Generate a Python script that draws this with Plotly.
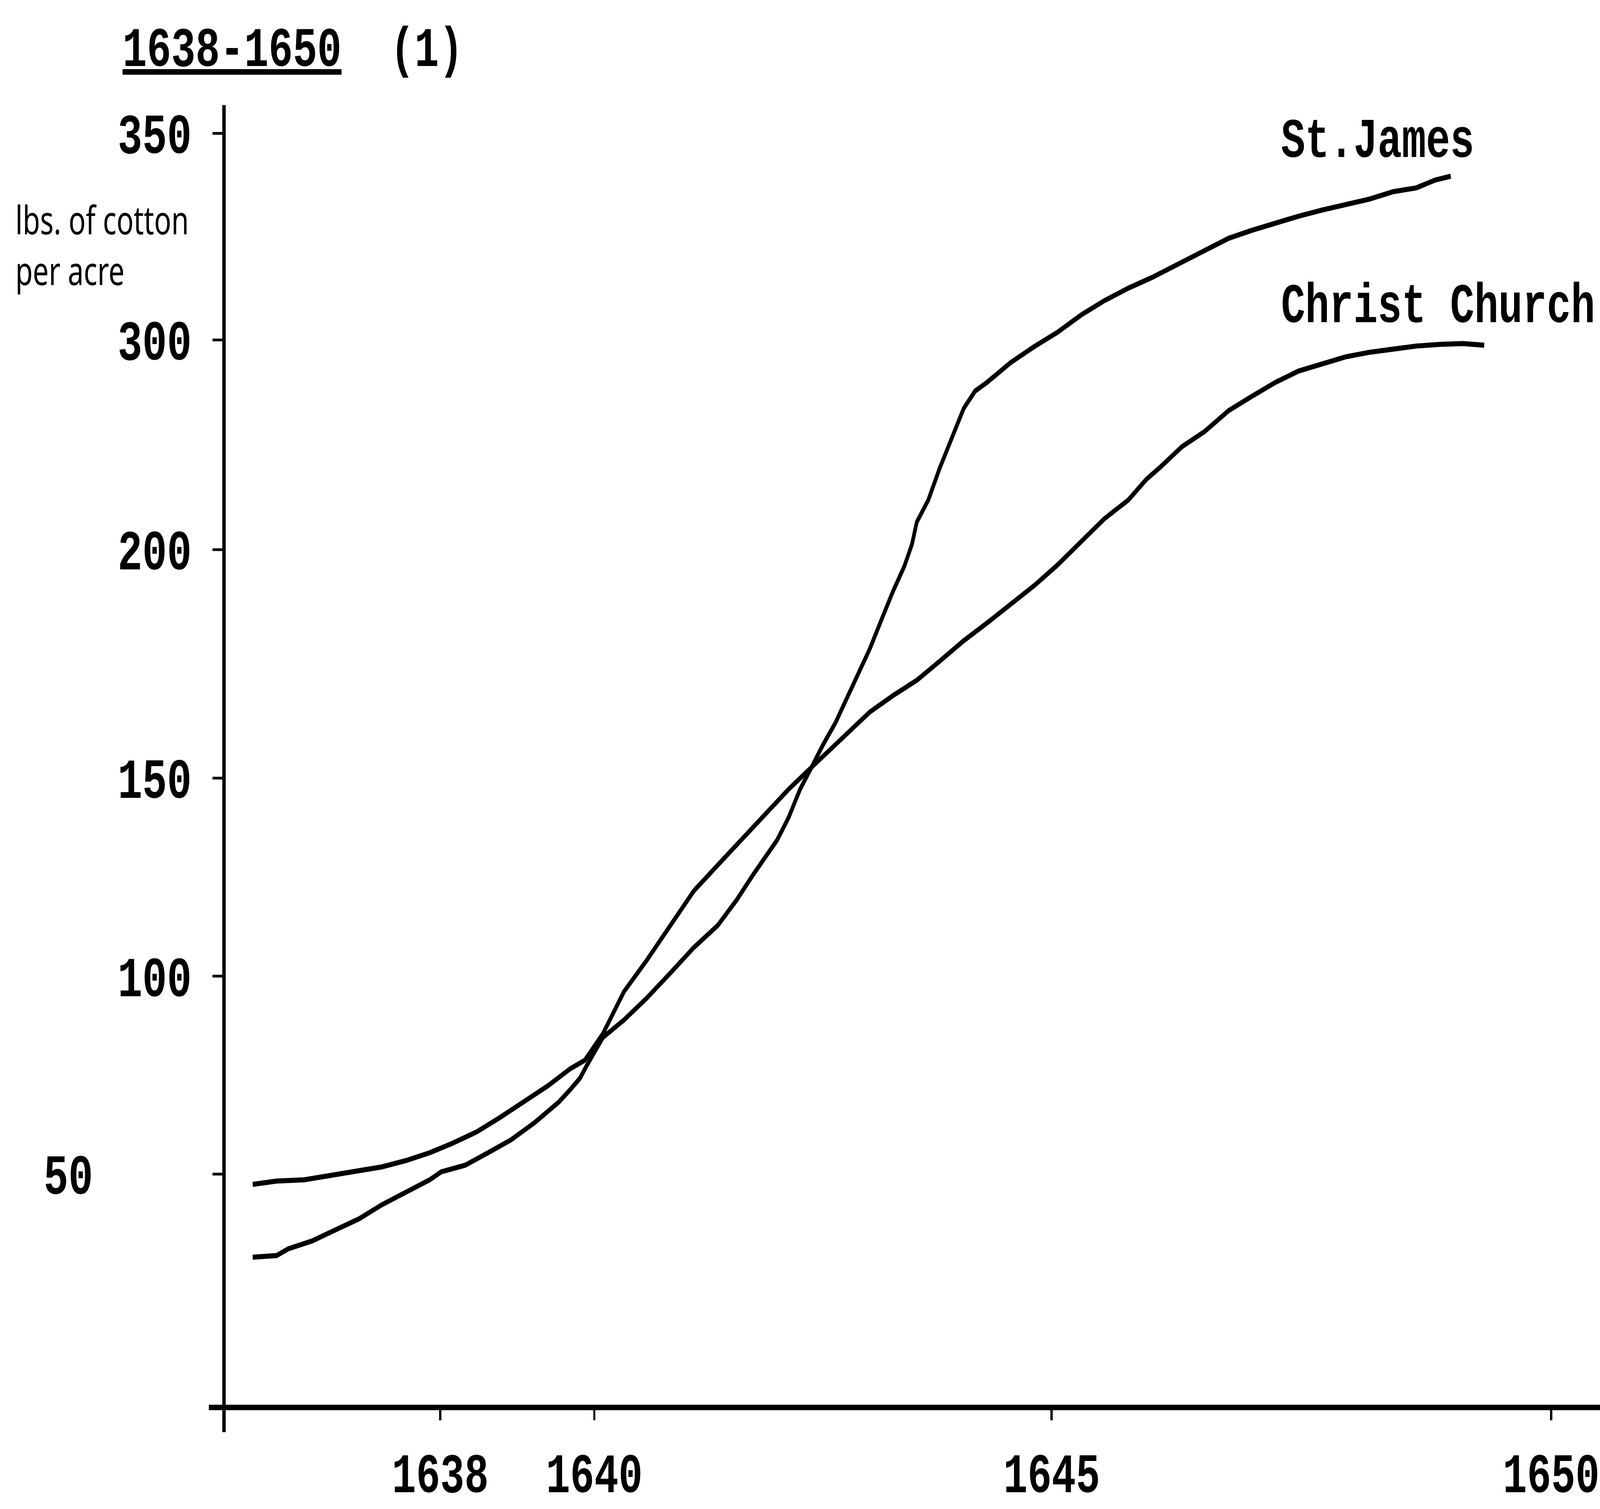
import plotly.graph_objects as go

# ---- data (x in drawn-year units, y in drawn-scale units) ----
st_james_x = [1636.43, 1636.68, 1636.80, 1637.05, 1637.29, 1637.54, 1637.78, 1638.03, 1638.28, 1638.40,
              1638.65, 1638.89, 1639.13, 1639.38, 1639.63, 1639.75, 1639.85, 1639.92, 1640.00, 1640.09,
              1640.31, 1640.55, 1640.80, 1641.04, 1641.29, 1641.49, 1641.66, 1641.91, 1642.03, 1642.15,
              1642.27, 1642.39, 1642.52, 1642.64, 1642.76, 1642.88, 1643.00, 1643.12, 1643.24, 1643.32,
              1643.37, 1643.49, 1643.61, 1643.74, 1643.86, 1643.98, 1644.10, 1644.35, 1644.60, 1644.84,
              1645.09, 1645.33, 1645.58, 1645.83, 1646.14, 1646.38, 1646.63, 1646.87, 1647.12, 1647.36,
              1647.61, 1647.85, 1648.10, 1648.35, 1648.59, 1648.79, 1648.95]
st_james_y = [30.0, 30.4, 32.0, 33.9, 36.5, 39.2, 42.6, 45.6, 48.6, 50.5,
              52.1, 55.1, 58.2, 62.4, 67.3, 70.3, 73.0, 76.0, 79.4, 82.8,
              87.0, 92.3, 98.4, 104.4, 109.7, 115.9, 121.9, 130.2, 135.6, 142.4,
              147.7, 153.1, 158.4, 164.4, 170.5, 176.2, 183.1, 189.9, 196.0, 201.3,
              206.6, 211.9, 219.6, 227.2, 233.9, 238.1, 240.1, 244.9, 248.8, 252.2,
              256.4, 259.8, 262.8, 265.4, 269.1, 272.1, 274.8, 276.7, 278.5, 280.1,
              281.6, 282.9, 284.2, 286.0, 286.9, 288.8, 289.7]

christ_church_x = [1636.43, 1636.68, 1636.97, 1637.29, 1637.54, 1637.78, 1638.03, 1638.28, 1638.52, 1638.77,
                   1639.01, 1639.26, 1639.51, 1639.75, 1639.90, 1640.09, 1640.31, 1640.55, 1640.80, 1641.04,
                   1641.29, 1641.53, 1641.78, 1642.03, 1642.27, 1642.63, 1642.88, 1643.12, 1643.37, 1643.61,
                   1643.86, 1644.10, 1644.35, 1644.60, 1644.84, 1645.09, 1645.33, 1645.58, 1645.77, 1645.91,
                   1646.14, 1646.38, 1646.63, 1646.87, 1647.12, 1647.36, 1647.61, 1647.85, 1648.10, 1648.35,
                   1648.59, 1648.84, 1649.08, 1649.30]
christ_church_y = [47.5, 48.3, 48.6, 49.8, 50.5, 51.7, 53.2, 55.1, 57.4, 60.1,
                   63.5, 67.3, 71.1, 75.3, 77.3, 83.7, 93.8, 101.4, 109.7, 118.0,
                   124.2, 130.2, 136.3, 142.4, 147.7, 155.7, 161.0, 164.9, 168.6, 173.2,
                   178.1, 182.3, 186.8, 191.4, 196.3, 202.0, 207.4, 211.9, 216.9, 219.7,
                   224.7, 228.4, 233.4, 236.8, 240.2, 242.9, 244.7, 246.3, 247.4, 248.2,
                   248.9, 249.3, 249.5, 249.1]

# tick positions as drawn on the hand-made axes, and their printed labels
x_tick_vals = [1638.39, 1640.0, 1644.78, 1650.0]
x_tick_text = ["1638", "1640", "1645", "1650"]
y_tick_vals = [50, 97.5, 145.1, 200.0, 250.4, 300]
y_tick_text = ["50" + "\u00a0" * 4, "100", "150", "200", "300", "350"]

series_names = ["St.James", "Christ Church"]
title_text = "<u>1638-1650</u>\u00a0\u00a0(1)"
y_label_text = "lbs. of cotton<br>per acre"

W, H = 5643, 3864
MONO = "Liberation Mono, Courier New, monospace"
INK = "#000000"
typed = lambda size: dict(family=MONO, size=size, color=INK, weight="bold")

fig = go.Figure()
fig.add_trace(go.Scatter(x=st_james_x, y=st_james_y, mode="lines", name=series_names[0],
                         line=dict(color=INK, width=13), showlegend=False))
fig.add_trace(go.Scatter(x=christ_church_x, y=christ_church_y, mode="lines", name=series_names[1],
                         line=dict(color=INK, width=13), showlegend=False))

# series labels placed at the end of each curve
fig.add_annotation(x=1647.17, y=297.8, xref="x", yref="y", text=series_names[0], showarrow=False,
                   xanchor="left", yanchor="middle", font=typed(142))
fig.add_annotation(x=1647.17, y=258.2, xref="x", yref="y", text=series_names[1], showarrow=False,
                   xanchor="left", yanchor="middle", font=typed(142))

# handwritten y-axis caption
fig.add_annotation(x=-0.152, y=0.893, xref="paper", yref="paper", text=y_label_text, showarrow=False,
                   xanchor="left", yanchor="middle", align="left",
                   font=dict(family="Noto Sans, sans-serif", size=100, color=INK))

# hand-drawn axis lines (slightly overshooting the corner)
fig.add_shape(type="line", xref="paper", yref="paper", x0=-0.011, x1=1.0, y0=0, y1=0,
              line=dict(color=INK, width=14))
fig.add_shape(type="line", xref="paper", yref="paper", x0=0, x1=0, y0=-0.019, y1=1.0,
              line=dict(color=INK, width=12))

fig.update_layout(
    width=W, height=H,
    margin=dict(l=790, r=0, t=269, b=178, pad=0),
    paper_bgcolor="white", plot_bgcolor="white",
    title=dict(text=title_text, x=0.0766, xref="container", xanchor="left",
               y=0.9692, yref="container", yanchor="middle", font=typed(143)),
    showlegend=False,
    xaxis=dict(range=[1636.13, 1650.51], tickmode="array", tickvals=x_tick_vals, ticktext=x_tick_text,
               showgrid=False, zeroline=False, showline=False,
               ticks="outside", ticklen=32, tickwidth=8, tickcolor=INK, ticklabeloverflow="allow",
               tickfont=typed(142), ticklabelstandoff=14),
    yaxis=dict(range=[-6.1, 306.8], tickmode="array", tickvals=y_tick_vals, ticktext=y_tick_text,
               showgrid=False, zeroline=False, showline=False,
               ticks="outside", ticklen=40, tickwidth=7, tickcolor=INK,
               tickfont=typed(145), ticklabelstandoff=44),
)

# the browser may not grant the full 5643x3864 viewport; map the figure onto whatever it gives
post = (
    "document.documentElement.style.margin='0';document.body.style.margin='0';"
    "document.documentElement.style.overflow='hidden';document.body.style.overflow='hidden';"
    "var gd=document.getElementById('{plot_id}');"
    "var sx=window.innerWidth/%d, sy=window.innerHeight/%d;"
    "if(Math.abs(sx-1)>0.001||Math.abs(sy-1)>0.001){"
    "gd.style.transformOrigin='0 0';gd.style.transform='scale('+sx+','+sy+')';}" % (W, H)
)
fig.write_html("out.html", config={"displayModeBar": False}, post_script=post)
